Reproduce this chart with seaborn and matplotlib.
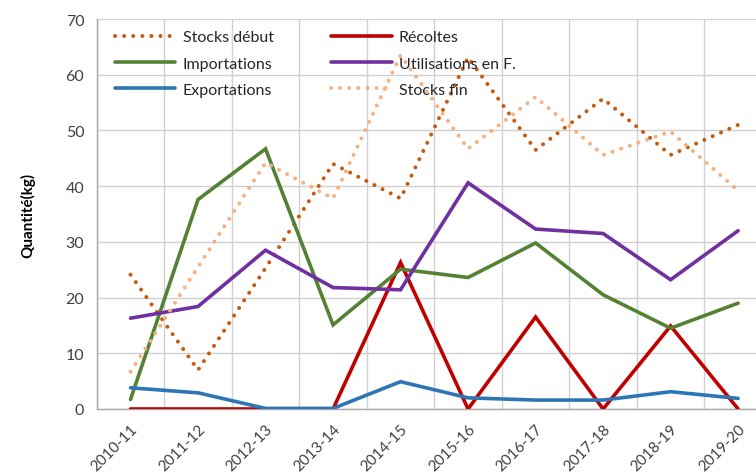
import matplotlib
matplotlib.use("Agg")
import matplotlib.pyplot as plt
import seaborn as sns
import pandas as pd
from matplotlib.ticker import FixedLocator, MultipleLocator

campagnes = ["2010-11", "2011-12", "2012-13", "2013-14", "2014-15",
             "2015-16", "2016-17", "2017-18", "2018-19", "2019-20"]
stocks_debut = [24.1, 7.0, 25.3, 44.0, 37.8, 63.1, 46.5, 55.7, 45.6, 51.0]
recoltes = [0, 0, 0, 0, 26.3, 0, 16.5, 0, 14.9, 0]
importations = [1.7, 37.6, 46.7, 15.1, 25.1, 23.6, 29.8, 20.5, 14.5, 19.0]
utilisations = [16.3, 18.4, 28.5, 21.8, 21.4, 40.6, 32.3, 31.5, 23.2, 32.0]
exportations = [3.8, 2.9, 0.1, 0.1, 4.9, 2.0, 1.6, 1.6, 3.1, 1.9]
stocks_fin = [6.7, 25.5, 44.2, 37.8, 63.5, 46.7, 56.0, 45.6, 49.8, 39.2]

series = [
    ("Stocks début", stocks_debut, "#C55A11", "dot"),
    ("Récoltes", recoltes, "#C00000", "solid"),
    ("Importations", importations, "#548235", "solid"),
    ("Utilisations en F.", utilisations, "#7030A0", "solid"),
    ("Exportations", exportations, "#2E75B6", "solid"),
    ("Stocks fin", stocks_fin, "#F4B183", "dot"),
]

sns.set_theme(style="white")
plt.rcParams["font.family"] = ["Lato", "DejaVu Sans"]

fig = plt.figure(figsize=(7.56, 4.77), dpi=100)
ax = fig.add_axes([0.128, 0.1405, 0.893, 0.8175])

xs = list(range(len(campagnes)))
for name, vals, color, style in series:
    df = pd.DataFrame({"x": xs, "y": vals})
    if style == "dot":
        sns.lineplot(data=df, x="x", y="y", ax=ax, color=color, lw=2.9,
                     linestyle=(0, (0.01, 2.25)), dash_capstyle="round",
                     label=name, zorder=3)
    else:
        sns.lineplot(data=df, x="x", y="y", ax=ax, color=color, lw=2.6,
                     label=name, zorder=3, solid_joinstyle="miter")

ax.set_xlim(-0.5, 9.5)
ax.set_ylim(0, 70)
ax.yaxis.set_major_locator(MultipleLocator(10))
ax.xaxis.set_major_locator(FixedLocator(xs))
ax.set_xticklabels(campagnes, rotation=45, ha="right", rotation_mode="anchor",
                   fontsize=11, color="#404040")
ax.xaxis.set_minor_locator(FixedLocator([i - 0.5 for i in range(11)]))
ax.tick_params(axis="x", which="major", length=0, pad=9)
ax.tick_params(axis="x", which="minor", length=5, color="#A6A6A6", direction="out", width=1)
ax.tick_params(axis="y", which="major", length=5, color="#A6A6A6", direction="out",
               labelsize=11.5, labelcolor="#404040", width=1, pad=4)
ax.grid(True, axis="y", which="major", color="#D0D0D0", lw=1)
ax.grid(True, axis="x", which="minor", color="#D0D0D0", lw=1)
ax.grid(False, axis="x", which="major")
ax.set_axisbelow(True)
for s in ["top", "right"]:
    ax.spines[s].set_visible(False)
for s in ["left", "bottom"]:
    ax.spines[s].set_color("#A6A6A6")
    ax.spines[s].set_linewidth(1)

ax.set_xlabel("")
ax.set_ylabel("Quantité(kg)", fontsize=11, fontweight="bold", color="black", labelpad=22)

handles, labels = ax.get_legend_handles_labels()
order = [0, 2, 4, 1, 3, 5]
ax.legend([handles[i] for i in order], [labels[i] for i in order],
          loc="upper left", bbox_to_anchor=(0.01, 1.0), ncol=2, frameon=False,
          fontsize=11.5, handlelength=3.8, columnspacing=3.6, labelspacing=0.75,
          handletextpad=0.45, borderaxespad=0.3)

fig.savefig("out.png", dpi=100)
